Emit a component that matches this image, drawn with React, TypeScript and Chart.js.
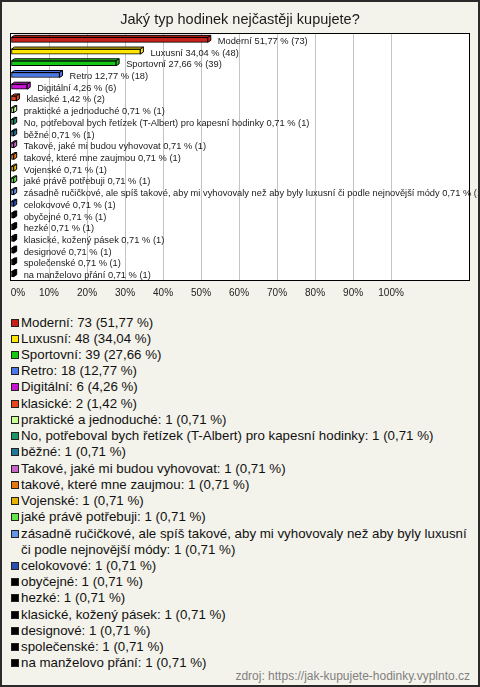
import React, { useEffect, useRef } from 'react';
import { Chart, registerables } from 'chart.js';

Chart.register(...registerables);

const FONT = '"Liberation Sans", Arial, sans-serif';
const TITLE = 'Jaký typ hodinek nejčastěji kupujete?';
const SOURCE = 'zdroj: https://jak-kupujete-hodinky.vyplnto.cz';

const categories = [
  'Moderní',
  'Luxusní',
  'Sportovní',
  'Retro',
  'Digitální',
  'klasické',
  'praktické a jednoduché',
  'No, potřeboval bych řetízek (T-Albert) pro kapesní hodinky',
  'běžné',
  'Takové, jaké mi budou vyhovovat',
  'takové, které mne zaujmou',
  'Vojenské',
  'jaké právě potřebuji',
  'zásadně ručičkové, ale spíš takové, aby mi vyhovovaly než aby byly luxusní či podle nejnovější módy',
  'celokovové',
  'obyčejné',
  'hezké',
  'klasické, kožený pásek',
  'designové',
  'společenské',
  'na manželovo přání',
];

const counts = [73, 48, 39, 18, 6, 2, 1, 1, 1, 1, 1, 1, 1, 1, 1, 1, 1, 1, 1, 1, 1];

const percents = [
  51.77, 34.04, 27.66, 12.77, 4.26, 1.42, 0.71, 0.71, 0.71, 0.71, 0.71, 0.71, 0.71, 0.71,
  0.71, 0.71, 0.71, 0.71, 0.71, 0.71, 0.71,
];

const colors = [
  '#C8201A',
  '#FFE600',
  '#14C814',
  '#4A78E8',
  '#C814D2',
  '#E6461E',
  '#C8FF96',
  '#1E9664',
  '#1E7896',
  '#C864C8',
  '#E67814',
  '#E6B400',
  '#64E646',
  '#6496E6',
  '#2850B4',
  '#000000',
  '#000000',
  '#000000',
  '#000000',
  '#000000',
  '#000000',
];

const xTicks = [0, 10, 20, 30, 40, 50, 60, 70, 80, 90, 100];
const X_MAX = 120.5;

const fmt = (v: number) => v.toFixed(2).replace('.', ',');

const decoPlugin = {
  id: 'deco',
  beforeDraw(chart: any) {
    const { ctx, chartArea, width, height } = chart;
    ctx.save();
    ctx.fillStyle = '#F4F3EB';
    ctx.fillRect(0, 0, width, height);
    ctx.fillStyle = '#FFFFFF';
    ctx.fillRect(chartArea.left, chartArea.top, chartArea.right - chartArea.left, chartArea.bottom - chartArea.top);
    ctx.restore();
  },
  beforeDatasetsDraw(chart: any) {
    const { ctx, chartArea } = chart;
    ctx.save();
    ctx.strokeStyle = '#000000';
    ctx.lineWidth = 1;
    ctx.strokeRect(
      chartArea.left - 0.5,
      chartArea.top - 0.5,
      chartArea.right - chartArea.left + 1,
      chartArea.bottom - chartArea.top + 1
    );
    ctx.restore();
  },
  afterDatasetsDraw(chart: any) {
    const { ctx } = chart;
    const meta = chart.getDatasetMeta(0);
    const dx = 3;
    const dy = 2;
    ctx.save();
    meta.data.forEach((el: any, i: number) => {
      const p = el.getProps(['x', 'y', 'base', 'height'], true);
      const top = p.y - p.height / 2;
      const bot = p.y + p.height / 2;
      ctx.fillStyle = colors[i];
      ctx.strokeStyle = '#000000';
      ctx.lineWidth = 1;
      ctx.beginPath();
      ctx.moveTo(p.base, top);
      ctx.lineTo(p.base + dx, top - dy);
      ctx.lineTo(p.x + dx, top - dy);
      ctx.lineTo(p.x, top);
      ctx.closePath();
      ctx.fill();
      ctx.stroke();
      ctx.beginPath();
      ctx.moveTo(p.x, top);
      ctx.lineTo(p.x + dx, top - dy);
      ctx.lineTo(p.x + dx, bot - dy);
      ctx.lineTo(p.x, bot);
      ctx.closePath();
      ctx.fill();
      ctx.stroke();
    });
    ctx.font = `9.3px ${FONT}`;
    ctx.fillStyle = '#1a1a1a';
    ctx.textBaseline = 'alphabetic';
    ctx.textAlign = 'left';
    meta.data.forEach((el: any, i: number) => {
      const p = el.getProps(['x', 'y'], true);
      ctx.fillText(`${categories[i]} ${fmt(percents[i])} % (${counts[i]})`, p.x + 10, p.y + 4);
    });
    ctx.restore();
  },
};

export default function App() {
  const ref = useRef<HTMLCanvasElement>(null);

  useEffect(() => {
    document.body.style.margin = '0';
    const chart = new Chart(ref.current as HTMLCanvasElement, {
      type: 'bar',
      data: {
        labels: categories,
        datasets: [
          {
            data: percents,
            backgroundColor: colors,
            borderColor: '#000000',
            borderWidth: 1,
            borderSkipped: false,
            barThickness: 5,
          },
        ],
      },
      options: {
        indexAxis: 'y',
        animation: false,
        responsive: false,
        devicePixelRatio: 1,
        layout: { padding: { left: 11, right: 11, top: 0, bottom: 4 } },
        plugins: {
          legend: { display: false },
          tooltip: { enabled: false },
          title: {
            display: true,
            text: TITLE,
            color: '#1a1a1a',
            font: { family: FONT, size: 14.5, weight: 'normal', lineHeight: '18px' },
            padding: { top: 11, bottom: 5 },
          },
        },
        scales: {
          x: {
            type: 'linear',
            min: 0,
            max: X_MAX,
            afterBuildTicks: (s: any) => {
              s.ticks = xTicks.map((v) => ({ value: v }));
            },
            afterFit: (s: any) => {
              s.paddingLeft = 0;
              s.paddingRight = 0;
            },
            ticks: {
              autoSkip: false,
              maxRotation: 0,
              padding: 7,
              color: '#222222',
              font: { family: FONT, size: 10 },
              callback: (v: any) => (Number(v) === 0 ? '     0%' : `${v}%`),
            },
            grid: {
              drawTicks: false,
              color: (c: any) =>
                c.tick && c.tick.value > 0 && c.tick.value <= 100 ? '#C4C4C4' : 'rgba(0,0,0,0)',
            },
            border: { display: false },
          },
          y: { display: false, grid: { display: false } },
        },
      },
      plugins: [decoPlugin],
    } as any);
    return () => chart.destroy();
  }, []);

  return (
    <div
      style={{
        position: 'absolute',
        left: 0,
        top: 0,
        width: 480,
        height: 687,
        background: '#F4F3EB',
        fontFamily: FONT,
        overflow: 'hidden',
      }}
    >
      <canvas
        ref={ref}
        width={480}
        height={310}
        style={{ position: 'absolute', left: 0, top: 0, width: 480, height: 310, display: 'block' }}
      />
      <div
        style={{
          position: 'absolute',
          left: 11,
          top: 314.5,
          width: 459,
          fontSize: 13.3,
          lineHeight: '16.24px',
          color: '#111111',
        }}
      >
        {categories.map((c, i) => (
          <div key={i} style={{ paddingLeft: 10, textIndent: -10 }}>
            <span
              style={{
                display: 'inline-block',
                width: 8,
                height: 8,
                boxSizing: 'border-box',
                border: '1px solid #222222',
                background: colors[i],
                marginRight: 2,
                verticalAlign: 'baseline',
              }}
            />
            {`${c}: ${counts[i]} (${fmt(percents[i])} %)`}
          </div>
        ))}
      </div>
      <div
        style={{
          position: 'absolute',
          right: 10,
          top: 669,
          fontSize: 12,
          lineHeight: '14px',
          color: '#808080',
          whiteSpace: 'nowrap',
        }}
      >
        {SOURCE}
      </div>
      <div
        style={{
          position: 'absolute',
          left: 0,
          top: 0,
          width: 480,
          height: 687,
          boxSizing: 'border-box',
          border: '2px solid #2a2a2a',
          pointerEvents: 'none',
        }}
      />
    </div>
  );
}
